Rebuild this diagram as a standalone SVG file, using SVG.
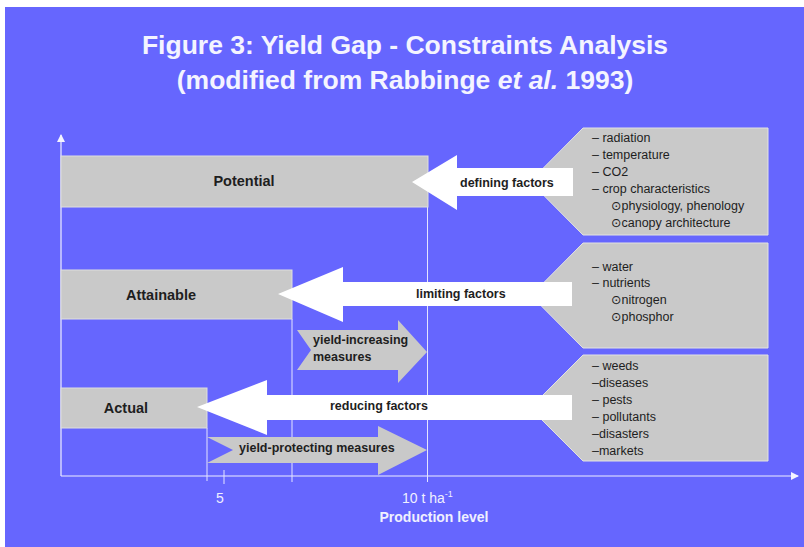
<svg xmlns="http://www.w3.org/2000/svg" width="804" height="547" viewBox="0 0 804 547">
  <defs>
    <style>
      .title { font-family: "Liberation Sans", Arial, sans-serif; font-weight: bold; font-size: 26.5px; fill: #f4f4ff; text-anchor: middle; }
      .box { fill: #c9c9c9; stroke: #dedede; stroke-width: 1; }
      .tag { fill: #c9c9c9; stroke: #e2e2e2; stroke-width: 1; }
      .white { fill: #ffffff; }
      .grey { fill: #c9c9c9; }
      .lbl { font-family: "Liberation Sans", Arial, sans-serif; font-weight: bold; font-size: 14.5px; fill: #1e1e1e; text-anchor: middle; }
      .arr { font-family: "Liberation Sans", Arial, sans-serif; font-weight: bold; font-size: 12.5px; fill: #1e1e1e; }
      .list { font-family: "Liberation Sans", "DejaVu Sans", Arial, sans-serif; font-size: 12.5px; fill: #1e1e1e; }
      .axis { stroke: #eeeeff; stroke-width: 1.2; fill: none; }
      .grid { stroke: #e4e4ff; stroke-width: 1; fill: none; }
      .ax { font-family: "Liberation Sans", Arial, sans-serif; fill: #f0f0ff; }
    </style>
    <marker id="axhead" viewBox="0 0 8 8" refX="7" refY="4" markerWidth="8" markerHeight="8" markerUnits="userSpaceOnUse" orient="auto">
      <path d="M0,0 L8,4 L0,8 Z" fill="#f4f4ff"/>
    </marker>
  </defs>

  <!-- page -->
  <rect x="0" y="0" width="804" height="547" fill="#ffffff"/>
  <rect x="5" y="7" width="799" height="540" fill="#6666fe"/>

  <text class="title" x="405" y="54">Figure 3: Yield Gap - Constraints Analysis</text>
  <text class="title" x="405" y="89">(modified from Rabbinge <tspan font-style="italic">et al.</tspan> 1993)</text>

  <!-- axes and guide lines -->
  <g id="axes">
    <line class="axis" x1="61" y1="476" x2="61" y2="135" marker-end="url(#axhead)"/>
    <line class="axis" x1="61" y1="476" x2="798" y2="476" marker-end="url(#axhead)"/>
    <line class="grid" x1="207" y1="428" x2="207" y2="481"/>
    <line class="grid" x1="292" y1="319" x2="292" y2="482"/>
    <line class="grid" x1="427.5" y1="207" x2="427.5" y2="482"/>
    <line class="grid" x1="224" y1="470" x2="224" y2="484"/>
    <text class="ax" x="220" y="503" font-size="14" text-anchor="middle">5</text>
    <text class="ax" x="402" y="503" font-size="14">10 t ha<tspan font-size="9" dy="-6">-1</tspan></text>
    <text class="ax" x="434" y="522" font-size="14" font-weight="bold" text-anchor="middle">Production level</text>
  </g>

  <!-- yield levels -->
  <g id="potential">
    <rect class="box" x="61" y="156" width="367" height="51"/>
    <text class="lbl" x="244" y="186">Potential</text>
  </g>
  <g id="attainable">
    <rect class="box" x="61" y="270" width="231" height="49"/>
    <text class="lbl" x="161" y="300">Attainable</text>
  </g>
  <g id="actual">
    <rect class="box" x="61" y="388" width="146" height="40"/>
    <text class="lbl" x="126" y="413">Actual</text>
  </g>

  <!-- factor lists -->
  <g id="defining-list">
    <polygon class="tag" points="583,128 768,128 768,235 583,235 530,181.5"/>
    <text class="list" x="592" y="142">– radiation</text>
    <text class="list" x="592" y="159">– temperature</text>
    <text class="list" x="592" y="176">– CO2</text>
    <text class="list" x="592" y="193">– crop characteristics</text>
    <text class="list" x="611" y="210">⊙physiology, phenology</text>
    <text class="list" x="611" y="227">⊙canopy architecture</text>
  </g>
  <g id="limiting-list">
    <polygon class="tag" points="583,243 768,243 768,348 583,348 531,295.5"/>
    <text class="list" x="592" y="271">– water</text>
    <text class="list" x="592" y="287">– nutrients</text>
    <text class="list" x="611" y="304">⊙nitrogen</text>
    <text class="list" x="611" y="321">⊙phosphor</text>
  </g>
  <g id="reducing-list">
    <polygon class="tag" points="583,355 768,355 768,461 583,461 530,408"/>
    <text class="list" x="592" y="370">– weeds</text>
    <text class="list" x="592" y="387">–diseases</text>
    <text class="list" x="592" y="404">– pests</text>
    <text class="list" x="592" y="421">– pollutants</text>
    <text class="list" x="592" y="438">–disasters</text>
    <text class="list" x="592" y="455">–markets</text>
  </g>

  <!-- connectors: factor arrows and measure arrows -->
  <g id="connectors">
    <g id="defining-factors">
      <polygon class="white" points="412,182 457,155 457,168 573,168 573,196 457,196 457,210"/>
      <text class="arr" x="460" y="187">defining factors</text>
    </g>
    <g id="limiting-factors">
      <polygon class="white" points="278,294 343,267 343,282 572,282 572,306 343,306 343,322"/>
      <text class="arr" x="416" y="298">limiting factors</text>
    </g>
    <g id="reducing-factors">
      <polygon class="white" points="197,407 267,380 267,395 572,395 572,420 267,420 267,435"/>
      <text class="arr" x="330" y="410">reducing factors</text>
    </g>
    <g id="yield-increasing">
      <polygon class="grey" points="297,330 398,330 398,320 427,352 398,383 398,370 297,370 311,350"/>
      <text class="arr" x="313" y="344">yield-increasing</text>
      <text class="arr" x="313" y="361">measures</text>
    </g>
    <g id="yield-protecting">
      <polygon class="grey" points="207,437 378,437 378,426 427,450 378,475 378,463 207,463 233,450"/>
      <text class="arr" x="239" y="452">yield-protecting measures</text>
    </g>
  </g>
</svg>
